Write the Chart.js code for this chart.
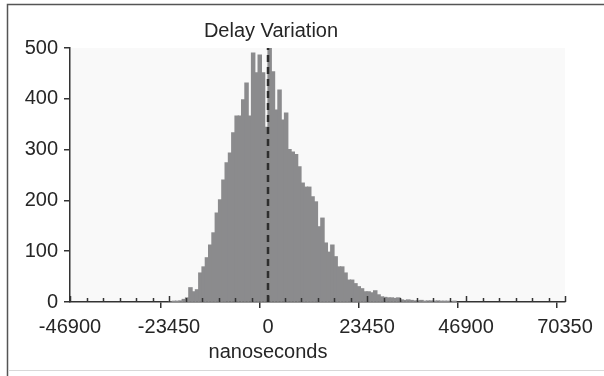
<!DOCTYPE html>
<html>
<head>
<meta charset="utf-8">
<script src="https://cdn.jsdelivr.net/npm/chart.js@4.4.1/dist/chart.umd.min.js"></script>
<style>
  body { margin: 0; background: #fff; }
  canvas { display: block; }
</style>
</head>
<body>
<canvas id="myChart" width="604" height="376"></canvas>
<script>
'use strict';

// DATA
let chartTitle = 'Delay Variation';
let axisTitle = 'nanoseconds';
let xTickLabels = [-46900, -23450, 0, 23450, 46900, 70350];
let yTickLabels = [0, 100, 200, 300, 400, 500];
let minorPerMajor = 6;

// histogram bins: width in ns, index of first bin (bin k starts at k * binWidth)
let binWidth = 23450 / 30;
let firstBin = -30;
let binCounts = [
  0, 1, 1, 2, 5, 8, 28, 20, 24, 57,
  69, 87, 112, 136, 175, 201, 240, 274, 293, 333,
  366, 366, 398, 431, 366, 490, 451, 486, 451, 344,
  500, 453, 378, 417, 358, 372, 300, 295, 290, 266,
  234, 226, 226, 207, 197, 148, 165, 116, 98, 112,
  89, 69, 69, 57, 43, 43, 36, 30, 26, 20,
  20, 18, 22, 14, 10, 9, 8, 8, 7, 8,
  4, 3, 4, 3, 2, 2, 3, 1, 2, 2,
  1, 2, 1, 1, 1, 0, 1
];

// build {x, y} points for the bars
let histData = [];
for (let i = 0; i < binCounts.length; i++) {
  histData.push({ x: (firstBin + i + 0.5) * binWidth, y: binCounts[i] });
}

let textColor = '#262626';
let axisColor = '#333';
let fontFamily = '"Liberation Sans", Arial, Helvetica, sans-serif';
let fontSize = 20;

function isMajor(value) {
  let r = value / xTickLabels[1];
  return Math.abs(r - Math.round(r)) < 1e-6;
}

// major ticks from the labels, minor ones in between
function buildXTicks(scale) {
  let ticks = [];
  for (let i = 0; i < xTickLabels.length; i++) {
    ticks.push({ value: xTickLabels[i] });
    if (i < xTickLabels.length - 1) {
      let step = (xTickLabels[i + 1] - xTickLabels[i]) / minorPerMajor;
      for (let j = 1; j < minorPerMajor; j++) {
        ticks.push({ value: xTickLabels[i] + j * step });
      }
    }
  }
  scale.ticks = ticks;
}

// frame, plot background, inner ticks, zero line and the two titles
const decorations = {
  id: 'decorations',
  beforeDraw(chart) {
    const ctx = chart.ctx;
    const area = chart.chartArea;
    ctx.save();
    ctx.fillStyle = '#f9f9f9';
    ctx.fillRect(area.left, area.top, area.right - area.left, area.bottom - area.top);
    // outer frame
    ctx.strokeStyle = '#555';
    ctx.lineWidth = 1.5;
    ctx.beginPath();
    ctx.moveTo(7.5, 376);
    ctx.lineTo(7.5, 4.5);
    ctx.lineTo(604, 4.5);
    ctx.stroke();
    ctx.strokeStyle = '#d8d8d8';
    ctx.lineWidth = 1;
    ctx.beginPath();
    ctx.moveTo(8, 370.5);
    ctx.lineTo(604, 370.5);
    ctx.stroke();
    ctx.restore();
  },
  afterDraw(chart) {
    const ctx = chart.ctx;
    const area = chart.chartArea;
    const xScale = chart.scales.x;
    ctx.save();
    // upward tick marks on the x axis
    ctx.strokeStyle = axisColor;
    ctx.lineWidth = 1.5;
    xScale.ticks.forEach(t => {
      const px = Math.round(xScale.getPixelForValue(t.value)) + 0.5;
      const len = isMajor(t.value) ? 6 : 4;
      ctx.beginPath();
      ctx.moveTo(px, area.bottom);
      ctx.lineTo(px, area.bottom - len);
      ctx.stroke();
    });
    // dashed line at zero
    const x0 = xScale.getPixelForValue(0);
    ctx.setLineDash([7, 5]);
    ctx.lineWidth = 2.5;
    ctx.strokeStyle = '#2e2e2e';
    ctx.beginPath();
    ctx.moveTo(x0, area.bottom);
    ctx.lineTo(x0, area.top);
    ctx.stroke();
    ctx.setLineDash([]);
    // titles
    ctx.fillStyle = textColor;
    ctx.font = fontSize + 'px ' + fontFamily;
    ctx.textAlign = 'center';
    ctx.textBaseline = 'middle';
    ctx.fillText(chartTitle, 271, 31);
    ctx.fillText(axisTitle, 268, 352);
    ctx.restore();
  }
};

const data = {
  datasets: [
    {
      label: 'Count',
      data: histData,
      backgroundColor: '#8b8b8d',
      borderWidth: 0,
      inflateAmount: 0.6,
      barPercentage: 1.0,
      categoryPercentage: 1.0,
      grouped: false
    }
  ]
};

const config = {
  type: 'bar',
  data: data,
  options: {
    responsive: false,
    animation: false,
    devicePixelRatio: 1,
    layout: {
      padding: { left: 0, top: 48, right: 39, bottom: 0 }
    },
    plugins: {
      legend: { display: false },
      title: { display: false },
      tooltip: { enabled: false }
    },
    scales: {
      x: {
        type: 'linear',
        offset: false,
        min: xTickLabels[0],
        max: xTickLabels[xTickLabels.length - 1],
        afterBuildTicks: buildXTicks,
        afterFit: scale => { scale.height = 74; },
        border: { color: axisColor, width: 1.5 },
        grid: {
          drawOnChartArea: false,
          drawTicks: true,
          tickLength: 6,
          lineWidth: 1.5,
          color: ctx => (ctx.tick && isMajor(ctx.tick.value)) ? axisColor : 'rgba(0,0,0,0)'
        },
        ticks: {
          autoSkip: false,
          maxRotation: 0,
          padding: 7,
          color: textColor,
          font: { size: fontSize, family: fontFamily },
          callback: value => isMajor(value) ? String(Math.round(value)) : ''
        }
      },
      y: {
        min: yTickLabels[0],
        max: yTickLabels[yTickLabels.length - 1],
        afterFit: scale => { scale.width = 70; },
        border: { color: axisColor, width: 1.5 },
        grid: {
          drawOnChartArea: false,
          drawTicks: true,
          tickLength: 6,
          lineWidth: 1.5,
          color: axisColor
        },
        ticks: {
          stepSize: yTickLabels[1] - yTickLabels[0],
          padding: 6,
          color: textColor,
          font: { size: fontSize, family: fontFamily }
        }
      }
    }
  },
  plugins: [decorations]
};

const myChart = new Chart(
  document.getElementById('myChart'),
  config
);
</script>
</body>
</html>
